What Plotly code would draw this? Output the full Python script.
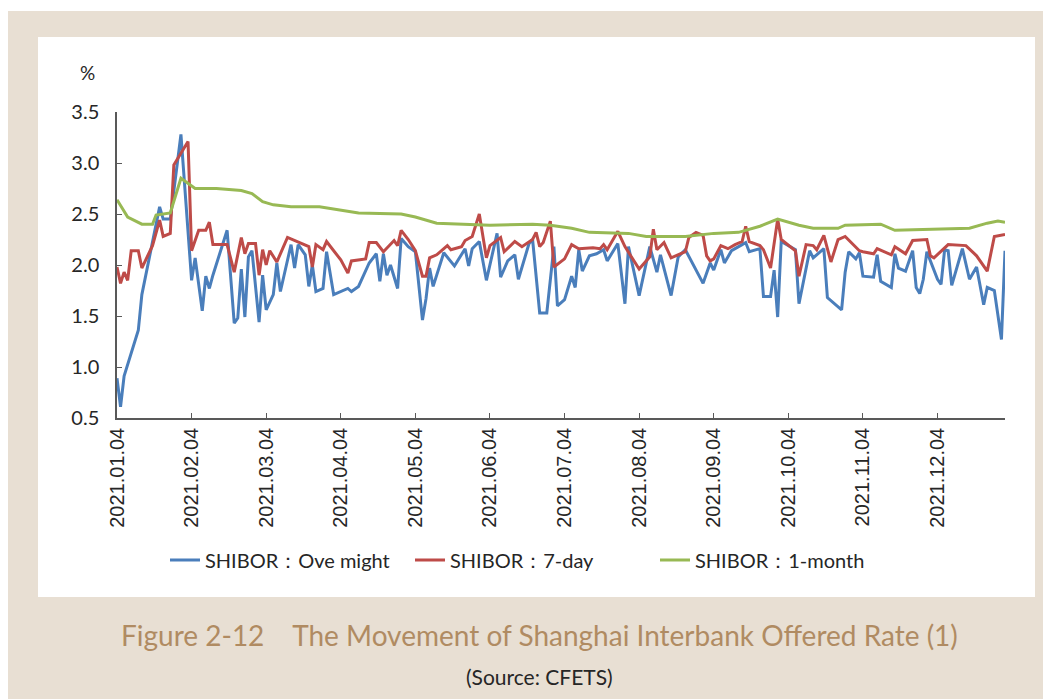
import plotly.graph_objects as go

# trading-day index (0 = 2021.01.04) and rate in %
overnight_day = [0, 1, 2, 6, 7, 12, 13, 15, 18, 21, 22, 24, 25, 26, 27, 31, 33, 34, 35, 36, 37, 38, 40, 41, 42,
                 44, 45, 46, 49, 50, 51, 53, 54, 55, 56, 58, 59, 61, 65, 66, 68, 71, 73, 74, 75, 76, 77, 79, 80,
                 82, 84, 86, 87, 88, 89, 92, 95, 98, 99, 100, 102, 104, 107, 108, 110, 112, 113, 116, 117, 119,
                 121, 123, 124, 126, 128, 129, 130, 131, 133, 135, 137, 138, 141, 143, 144, 147, 150, 152, 153,
                 156, 158, 160, 165, 167, 168, 170, 171, 173, 176, 177, 178, 181, 182, 184, 185, 186, 187, 191,
                 192, 195, 196, 199, 200, 204, 205, 206, 208, 209, 210, 213, 214, 215, 218, 219, 220, 222, 224,
                 225, 226, 227, 228, 231, 232, 233, 234, 235, 238, 240, 242, 244, 245, 247, 249, 250]
overnight = [0.89, 0.61, 0.91, 1.36, 1.71, 2.57, 2.45, 2.45, 3.28, 1.85, 2.07, 1.55, 1.89, 1.77, 1.90, 2.34, 1.43,
             1.48, 1.96, 1.49, 2.08, 2.14, 1.44, 1.90, 1.56, 1.71, 2.02, 1.74, 2.20, 1.97, 2.20, 2.10, 1.79, 2.00,
             1.74, 1.77, 2.13, 1.71, 1.77, 1.74, 1.79, 2.02, 2.11, 1.84, 2.11, 1.90, 2.00, 1.77, 2.26, 2.18, 2.13,
             1.46, 1.67, 1.97, 1.79, 2.12, 1.99, 2.16, 1.99, 2.16, 2.23, 1.85, 2.31, 1.88, 2.04, 2.10, 1.86, 2.21,
             2.25, 1.53, 1.53, 2.18, 1.60, 1.66, 1.89, 1.78, 2.15, 1.94, 2.09, 2.11, 2.15, 2.04, 2.21, 1.62, 2.18,
             1.70, 2.18, 1.93, 2.10, 1.70, 2.08, 2.15, 1.82, 2.02, 1.95, 2.15, 2.02, 2.14, 2.20, 2.22, 2.13, 2.16,
             1.69, 1.69, 1.95, 1.49, 2.23, 2.15, 1.62, 2.14, 2.07, 2.16, 1.68, 1.56, 1.93, 2.13, 2.06, 2.12, 1.89,
             1.88, 2.10, 1.84, 1.78, 2.11, 1.97, 1.94, 2.14, 1.78, 1.72, 1.86, 2.13, 1.86, 1.81, 2.15, 2.14, 1.80,
             2.16, 1.86, 1.98, 1.61, 1.78, 1.75, 1.27, 2.14]

week_day = [0, 1, 2, 3, 4, 6, 7, 9, 10, 12, 13, 15, 16, 20, 21, 23, 25, 26, 27, 31, 33, 35, 36, 37, 39, 40, 41, 42,
            43, 45, 48, 54, 55, 56, 58, 59, 63, 65, 66, 70, 71, 73, 75, 78, 79, 80, 82, 84, 86, 87, 88, 90, 93, 94,
            97, 98, 100, 102, 104, 105, 108, 109, 112, 114, 117, 118, 119, 120, 122, 123, 126, 128, 130, 134, 136,
            137, 138, 141, 143, 147, 150, 151, 152, 154, 156, 160, 161, 163, 165, 166, 167, 168, 170, 172, 174,
            176, 177, 178, 181, 182, 184, 186, 187, 191, 192, 194, 196, 197, 199, 201, 203, 205, 209, 210, 213,
            214, 218, 219, 222, 224, 228, 229, 230, 234, 239, 242, 245, 247, 250]
week = [1.98, 1.82, 1.93, 1.85, 2.14, 2.14, 1.97, 2.12, 2.19, 2.44, 2.28, 2.31, 2.98, 3.21, 2.14, 2.34, 2.34, 2.42,
        2.20, 2.20, 1.93, 2.27, 2.11, 2.21, 2.21, 1.90, 2.15, 2.00, 2.14, 2.03, 2.27, 2.18, 1.98, 2.20, 2.15, 2.23,
        2.05, 1.92, 2.04, 2.06, 2.22, 2.22, 2.13, 2.24, 2.19, 2.34, 2.25, 2.14, 1.89, 1.89, 2.07, 2.10, 2.19, 2.15,
        2.18, 2.24, 2.28, 2.50, 2.07, 2.19, 2.27, 2.13, 2.23, 2.18, 2.25, 2.32, 2.18, 2.22, 2.43, 1.98, 2.06, 2.20,
        2.16, 2.17, 2.16, 2.20, 2.15, 2.33, 2.18, 1.96, 2.08, 2.35, 2.15, 2.22, 2.07, 2.13, 2.27, 2.32, 2.29, 2.09,
        2.04, 2.06, 2.19, 2.16, 2.20, 2.23, 2.38, 2.23, 2.19, 2.15, 1.97, 2.45, 2.25, 2.14, 1.89, 2.20, 2.19, 2.15,
        2.29, 2.03, 2.25, 2.28, 2.14, 2.13, 2.11, 2.16, 2.10, 2.18, 2.11, 2.24, 2.25, 2.09, 2.07, 2.20, 2.19, 2.09,
        1.94, 2.28, 2.30]

month_day = [0, 3, 7, 10, 11, 15, 18, 22, 28, 35, 38, 41, 44, 49, 57, 63, 68, 80, 84, 90, 105, 117, 122, 128, 133,
             144, 149, 160, 168, 175, 181, 186, 192, 196, 203, 205, 215, 219, 230, 240, 245, 248, 250]
month = [2.64, 2.47, 2.40, 2.40, 2.49, 2.51, 2.85, 2.75, 2.75, 2.73, 2.70, 2.62, 2.59, 2.57, 2.57, 2.54, 2.51, 2.50,
         2.47, 2.41, 2.39, 2.40, 2.39, 2.36, 2.32, 2.31, 2.28, 2.28, 2.31, 2.32, 2.38, 2.45, 2.39, 2.36, 2.36, 2.39,
         2.40, 2.34, 2.35, 2.36, 2.41, 2.43, 2.42]

tick_days = [0, 21, 42, 63, 84, 105, 126, 147, 168, 189, 210, 231]
tick_labels = ["2021.01.04", "2021.02.04", "2021.03.04", "2021.04.04", "2021.05.04", "2021.06.04",
               "2021.07.04", "2021.08.04", "2021.09.04", "2021.10.04", "2021.11.04", "2021.12.04"]

# page body has an 8px margin, so the figure is drawn 8px in from the window corner
O = 8
W, H = 1051 - O, 699 - O
L, R, T, B = 117 - O, 1005 - O, 112 - O, 418 - O


def px(x):  # window pixel -> paper x
    return (x - O - L) / (R - L)


def py(y):  # window pixel -> paper y
    return (B - (y - O)) / (B - T)


fig = go.Figure()
fig.add_trace(go.Scatter(x=overnight_day, y=overnight, mode="lines", name="SHIBOR：Ove might",
                         line=dict(color="#4A7EBB", width=3)))
fig.add_trace(go.Scatter(x=week_day, y=week, mode="lines", name="SHIBOR：7-day",
                         line=dict(color="#BE4B48", width=3)))
fig.add_trace(go.Scatter(x=month_day, y=month, mode="lines", name="SHIBOR：1-month",
                         line=dict(color="#98B954", width=3)))

# beige frame + white card
fig.add_shape(type="rect", xref="paper", yref="paper", x0=px(6), x1=px(1060), y0=py(11), y1=py(710),
              fillcolor="#E8DFD3", line_width=0, layer="below")
fig.add_shape(type="rect", xref="paper", yref="paper", x0=px(38), x1=px(1035), y0=py(37), y1=py(597),
              fillcolor="white", line_width=0, layer="below")

fig.add_annotation(text="%", xref="paper", yref="paper", x=px(87), y=py(72), showarrow=False,
                   xanchor="center", yanchor="middle",
                   font=dict(family="Lato", size=19, color="#262626"))
fig.add_annotation(text="Figure 2-12    The Movement of Shanghai Interbank Offered Rate (1)",
                   xref="paper", yref="paper", x=px(539), y=py(635), showarrow=False,
                   xanchor="center", yanchor="middle",
                   font=dict(family="Lato", size=28, color="#B08B62"))
fig.add_annotation(text="(Source: CFETS)", xref="paper", yref="paper", x=px(539), y=py(676), showarrow=False,
                   xanchor="center", yanchor="middle",
                   font=dict(family="Lato", size=21, color="#262626"))

fig.update_layout(
    width=W, height=H,
    margin=dict(l=L, r=W - R, t=T, b=H - B),
    paper_bgcolor="white", plot_bgcolor="rgba(0,0,0,0)",
    font=dict(family="Lato", color="#262626"),
    showlegend=True,
    legend=dict(orientation="h", x=px(165), xanchor="left", y=py(560), yanchor="middle",
                entrywidth=200, entrywidthmode="pixels",
                font=dict(family="Lato", size=20, color="#262626"), bgcolor="rgba(0,0,0,0)"),
    xaxis=dict(range=[0, 250], tickvals=tick_days, ticktext=tick_labels, tickangle=-90,
               tickfont=dict(family="Liberation Sans", size=20, color="#262626"),
               showgrid=False, zeroline=False, showline=True, linecolor="#595959", linewidth=1.5,
               ticks="inside", ticklen=5, tickcolor="#595959"),
    yaxis=dict(range=[0.5, 3.5], tickvals=[0.5, 1.0, 1.5, 2.0, 2.5, 3.0, 3.5], tickformat=".1f",
               tickfont=dict(family="Lato", size=20, color="#262626"),
               showgrid=False, zeroline=False, showline=True, linecolor="#595959", linewidth=1.5,
               ticks="inside", ticklen=5, tickcolor="#595959", ticklabelstandoff=12),
)

fig.write_html("out.html")
